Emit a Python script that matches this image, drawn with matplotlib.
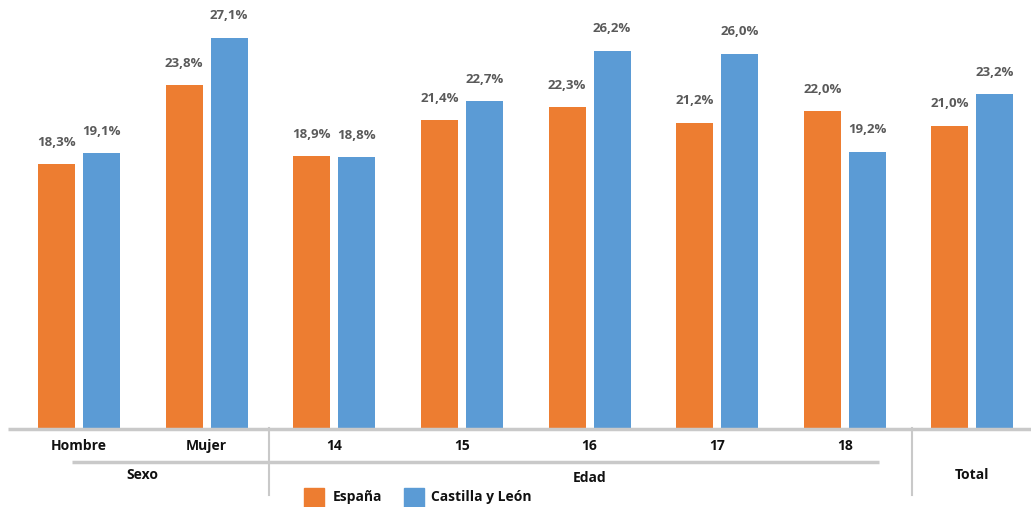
import matplotlib
matplotlib.use("Agg")
import matplotlib.pyplot as plt
import numpy as np

categories = ["Hombre", "Mujer", "14", "15", "16", "17", "18", ""]
espana = [18.3, 23.8, 18.9, 21.4, 22.3, 21.2, 22.0, 21.0]
castilla = [19.1, 27.1, 18.8, 22.7, 26.2, 26.0, 19.2, 23.2]
series_names = ["España", "Castilla y León"]
group_names = ["Sexo", "Edad", "Total"]

ORANGE = "#ED7D31"
BLUE = "#5B9BD5"
GRID = "#c9c9c9"
LABEL = "#5a5a5a"

plt.rcParams["font.family"] = ["Open Sans", "DejaVu Sans"]

W, H = 1031, 507
STEP = 127.64   # pixels between group centres
X0 = 79         # pixel centre of first group
fig = plt.figure(figsize=(W / 100, H / 100), dpi=100)

base_px = 428  # baseline height from top in pixels
ax = fig.add_axes([0, (H - base_px) / H, 1, base_px / H])
x = np.arange(len(categories))
xlim = (-X0 / STEP, (W - X0) / STEP)
ax.set_xlim(*xlim)
ax.set_ylim(0, base_px / 14.4)
ax.axis("off")

bw = 37 / STEP
off = 22.5 / STEP
ax.bar(x - off, espana, bw, color=ORANGE)
ax.bar(x + off, castilla, bw, color=BLUE)
for xs, vals in ((x - off, espana), (x + off, castilla)):
    for xi, v in zip(xs, vals):
        ax.annotate(f"{v:.1f}%".replace(".", ","), (xi, v), xytext=(0, 11), textcoords="offset points",
                    ha="center", va="bottom", fontsize=9.5, fontweight="bold", color=LABEL)

# decoration layer: x in group units, y in pixels from top
deco = fig.add_axes([0, 0, 1, 1], zorder=3)
deco.set_xlim(*xlim)
deco.set_ylim(H, 0)
deco.axis("off")
deco.patch.set_alpha(0)

def px_x(p):
    return (p - X0) / STEP

deco.plot([px_x(8), px_x(W)], [base_px + 1, base_px + 1], color=GRID, lw=2.5, solid_capstyle="butt")
deco.plot([px_x(72), px_x(879)], [462, 462], color=GRID, lw=2.5, solid_capstyle="butt")
for sep in (269, 912):
    deco.plot([px_x(sep), px_x(sep)], [base_px, 495], color=GRID, lw=1.5)

for xi, c in zip(x, categories):
    deco.text(xi, 446, c, ha="center", va="center", fontsize=10, fontweight="bold", color="#111111")

group_pos = [(0.5, 475), (4.0, 478), (7.0, 475)]
for name, (gx, gy) in zip(group_names, group_pos):
    deco.text(gx, gy, name, ha="center", va="center", fontsize=10, fontweight="bold", color="#111111")

# legend
for (sx, tx), name, col in zip([(304, 333), (404, 431)], series_names, [ORANGE, BLUE]):
    deco.add_patch(plt.Rectangle((px_x(sx), 488), 20 / STEP, 19, color=col, clip_on=False))
    deco.text(px_x(tx), 497, name, ha="left", va="center", fontsize=10, fontweight="bold", color="#111111")

fig.savefig("out.png", dpi=100)
